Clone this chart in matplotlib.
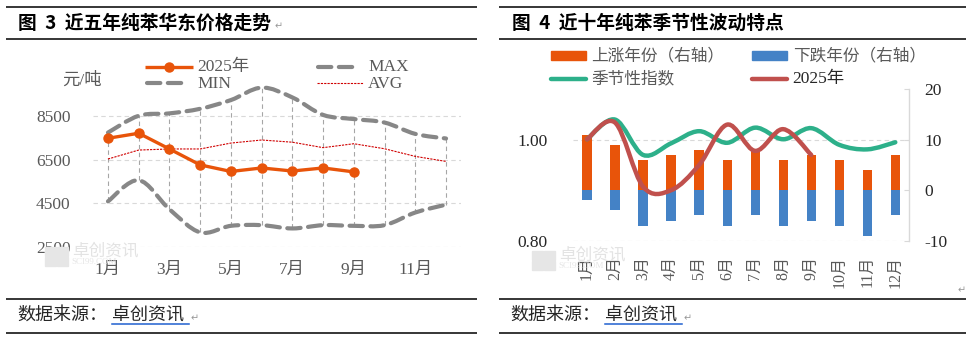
import numpy as np
import matplotlib
matplotlib.use("Agg")
import matplotlib.pyplot as plt
from matplotlib.path import Path
from matplotlib.patches import PathPatch, Rectangle
from matplotlib.lines import Line2D

# ---------------- data ----------------
months_l = list(range(1, 13))
xlabels_l = ["1月", "3月", "5月", "7月", "9月", "11月"]
price_2025 = [7480, 7710, 6990, 6260, 5960, 6120, 5980, 6120, 5940]
price_max = [7740, 8510, 8620, 8830, 9230, 9800, 9350, 8550, 8360, 8200, 7680, 7470]
price_min = [4590, 5560, 4230, 3170, 3470, 3500, 3350, 3500, 3470, 3500, 4080, 4440]
price_avg = [6530, 6940, 6990, 6990, 7260, 7400, 7300, 7050, 7230, 7000, 6650, 6420]
yticks_l = [2500, 4500, 6500, 8500]

months_r = ["1月", "2月", "3月", "4月", "5月", "6月", "7月", "8月", "9月", "10月", "11月", "12月"]
up_years = [11, 9, 6, 7, 8, 6, 8, 6, 7, 6, 4, 7]
down_years = [-2, -4, -7, -6, -5, -7, -5, -7, -6, -7, -9, -5]
season_idx = [1.001, 1.040, 0.970, 0.993, 1.017, 0.994, 1.024, 1.001, 1.023, 0.990, 0.981, 0.995]
idx_2025 = [1.001, 1.034, 0.907, 0.900, 0.950, 1.030, 0.978, 1.021, 0.970]

# ---------------- style ----------------
FONT = ["Liberation Serif", "Noto Sans CJK SC", "DejaVu Sans"]
CJK = ["Noto Sans CJK SC", "DejaVu Sans"]
plt.rcParams["font.family"] = FONT
ORANGE = "#E8540A"
BLUE = "#4482C6"
GREEN = "#2DB08A"
RED = "#C0504D"
GRAY = "#878787"
TXT = "#595959"

W, H = 966, 339
fig = plt.figure(figsize=(W / 100, H / 100), dpi=100)


def rect(x0, x1, ytop, ybot):
    return [x0 / W, (H - ybot) / H, (x1 - x0) / W, (ybot - ytop) / H]


def smooth_path(xs, ys):
    pts = np.column_stack([np.asarray(xs, float), np.asarray(ys, float)])
    n = len(pts)
    verts = [pts[0]]
    codes = [Path.MOVETO]
    for i in range(n - 1):
        p0 = pts[i - 1] if i > 0 else pts[i]
        p1 = pts[i]
        p2 = pts[i + 1]
        p3 = pts[i + 2] if i + 2 < n else pts[i + 1]
        verts += [p1 + (p2 - p0) / 6, p2 - (p3 - p1) / 6, p2]
        codes += [Path.CURVE4] * 3
    return Path(verts, codes)


# ---------------- left chart ----------------
axl = fig.add_axes(rect(92.6, 461.4, 83.25, 247))
axl.set_xlim(0.5, 12.5)
axl.set_ylim(2500, 10000)
for s in axl.spines.values():
    s.set_visible(False)
axl.set_yticks(yticks_l)
axl.set_yticklabels([str(v) for v in yticks_l])
axl.set_xticks([1, 3, 5, 7, 9, 11])
axl.set_xticklabels(xlabels_l)
axl.tick_params(axis="y", length=0, pad=16, labelsize=12.5, labelcolor=TXT)
axl.tick_params(axis="x", length=0, pad=11, labelsize=12.5, labelcolor=TXT)
axl.yaxis.grid(True, color="#D9D9D9", linestyle=(0, (4, 3)), linewidth=0.8)
axl.set_axisbelow(True)

# high-low lines
axl.vlines(months_l, price_min, price_max, colors="#A6A6A6", linestyles=(0, (4, 3)), linewidth=0.8, zorder=1)

for series in (price_min, price_max):
    pp = PathPatch(smooth_path(months_l, series), fill=False, edgecolor=GRAY, linewidth=3,
                   linestyle=(0, (3.2, 1.8)), capstyle="round", zorder=2)
    axl.add_patch(pp)
axl.plot(months_l, price_avg, color="#D00000", linewidth=0.8, linestyle=(0, (2, 1)), zorder=3)
axl.plot(months_l[:len(price_2025)], price_2025, color=ORANGE, linewidth=2.4, marker="o",
         markersize=6.5, zorder=4, solid_joinstyle="round")

# ---------------- right chart ----------------
axr = fig.add_axes(rect(573, 909.3, 89.3, 240.7))
xr = np.arange(len(months_r))
axr.set_xlim(-0.5, 11.5)
axr.set_ylim(0.8, 1.1)
axr.set_yticks([0.8, 1.0])
axr.set_yticklabels(["0.80", "1.00"])
axr.yaxis.grid(True, color="#D9D9D9", linestyle=(0, (4, 3)), linewidth=0.8)
for s in axr.spines.values():
    s.set_visible(False)
axr.tick_params(axis="y", length=0, pad=18, labelsize=12.5, labelcolor="#262626")
axr.set_xticks(xr)
axr.set_xticklabels(months_r, rotation=90, va="top", ha="center")
axr.tick_params(axis="x", length=0, pad=11, labelsize=11.5, labelcolor=TXT)

ax2 = axr.twinx()
ax2.set_ylim(-10, 20)
ax2.set_yticks([-10, 0, 10, 20])
ax2.set_yticklabels(["-10", "0", "10", "20"])
for k, s in ax2.spines.items():
    s.set_visible(k == "right")
ax2.spines["right"].set_color("#D9D9D9")
ax2.spines["right"].set_linewidth(1)
ax2.tick_params(axis="y", direction="in", length=3.5, color="#D9D9D9", pad=11,
                labelsize=12.5, labelcolor="#262626")
ax2.bar(xr, up_years, width=0.33, color=ORANGE, zorder=2)
ax2.bar(xr, down_years, width=0.33, color=BLUE, zorder=2)
ax2.add_patch(PathPatch(smooth_path(xr, season_idx), fill=False, edgecolor=GREEN, linewidth=3.2,
                        transform=axr.transData, zorder=3, capstyle="round"))
ax2.add_patch(PathPatch(smooth_path(xr[:len(idx_2025)], idx_2025), fill=False, edgecolor=RED,
                        linewidth=3.2, transform=axr.transData, zorder=4, capstyle="round"))

# ---------------- decorations (pixel overlay) ----------------
ov = fig.add_axes([0, 0, 1, 1], facecolor="none")
ov.set_xlim(0, W)
ov.set_ylim(H, 0)
ov.axis("off")

for (xa, xb) in ((6, 477), (499, 966)):
    for yy in (7.3, 39.3, 299.3, 332.7):
        ov.plot([xa, xb], [yy, yy], color="black", linewidth=1.1, solid_capstyle="butt")

ov.text(18, 23.5, "图  3  近五年纯苯华东价格走势", fontsize=13.5, fontweight="bold", family=CJK,
        va="center", ha="left", color="black")
ov.text(275, 26, "↵", fontsize=7, color="#999999", va="center", family=["DejaVu Sans"])
ov.text(512, 23.5, "图  4  近十年纯苯季节性波动特点", fontsize=13.5, fontweight="bold", family=CJK,
        va="center", ha="left", color="black")

# source lines
for dx in (0, 493):
    ov.text(17 + dx, 315, "数据来源：", fontsize=13, family=CJK, va="center", ha="left", color="#262626")
    ov.text(112 + dx, 315, "卓创资讯", fontsize=13, family=CJK, va="center", ha="left", color="#262626")
    ov.plot([112 + dx, 189 + dx], [323.5, 323.5], color="#2060D0", linewidth=1.1)
    ov.text(191 + dx, 318, "↵", fontsize=7, color="#999999", va="center", family=["DejaVu Sans"])
ov.text(958, 290, "↵", fontsize=7, color="#999999", va="center", family=["DejaVu Sans"])

# unit label
ov.text(62, 81, "元/吨", fontsize=12.5, va="center", ha="left", color=TXT)

# left legend
ov.add_line(Line2D([145, 169, 193], [67, 67, 67], color=ORANGE, linewidth=2.4, marker="o",
                   markersize=6.5, markevery=[1], solid_capstyle="butt"))
ov.text(197, 67, "2025年", fontsize=12.5, va="center", ha="left", color=TXT)
ov.add_line(Line2D([147, 186], [83, 83], color=GRAY, linewidth=3, linestyle=(0, (3.2, 1.8)),
                   dash_capstyle="round"))
ov.text(197, 84, "MIN", fontsize=12.5, va="center", ha="left", color=TXT)
ov.add_line(Line2D([318, 357], [67, 67], color=GRAY, linewidth=3, linestyle=(0, (3.2, 1.8)),
                   dash_capstyle="round"))
ov.text(368, 67, "MAX", fontsize=12.5, va="center", ha="left", color=TXT)
ov.add_line(Line2D([317, 363], [83, 83], color="#D00000", linewidth=0.8, linestyle=(0, (2, 1))))
ov.text(368, 84, "AVG", fontsize=12.5, va="center", ha="left", color=TXT)

# right legend
ov.add_patch(Rectangle((551, 50.7), 35, 9.3, color=ORANGE))
ov.text(591, 55.5, "上涨年份（右轴）", fontsize=12, family=CJK, va="center", ha="left", color=TXT)
ov.add_patch(Rectangle((752, 50.7), 35, 9.3, color=BLUE))
ov.text(793, 55.5, "下跌年份（右轴）", fontsize=12, family=CJK, va="center", ha="left", color=TXT)
ov.add_line(Line2D([551, 586], [79, 79], color=GREEN, linewidth=3.2, solid_capstyle="round"))
ov.text(591, 79, "季节性指数", fontsize=12, family=CJK, va="center", ha="left", color=TXT)
ov.add_line(Line2D([752, 787], [79, 79], color=RED, linewidth=3.2, solid_capstyle="round"))
ov.text(792, 79, "2025年", fontsize=12.5, va="center", ha="left", color="#262626")

# watermarks (faint)
for (lx, ly) in ((45, 247), (532, 251)):
    for ddx in (0, 12):
        for ddy in (0, 10):
            ov.add_patch(Rectangle((lx + ddx, ly + ddy), 11, 9, color="#E6E6E6", zorder=0))
    ov.text(lx + 27, ly + 4, "卓创资讯", fontsize=12, family=CJK, color="#E3E3E3", va="center", zorder=0)
    ov.text(lx + 26, ly + 14.5, "SCI99.COM", fontsize=6.5, color="#E6E6E6", va="center", zorder=0)

fig.savefig("out.png", dpi=100)
